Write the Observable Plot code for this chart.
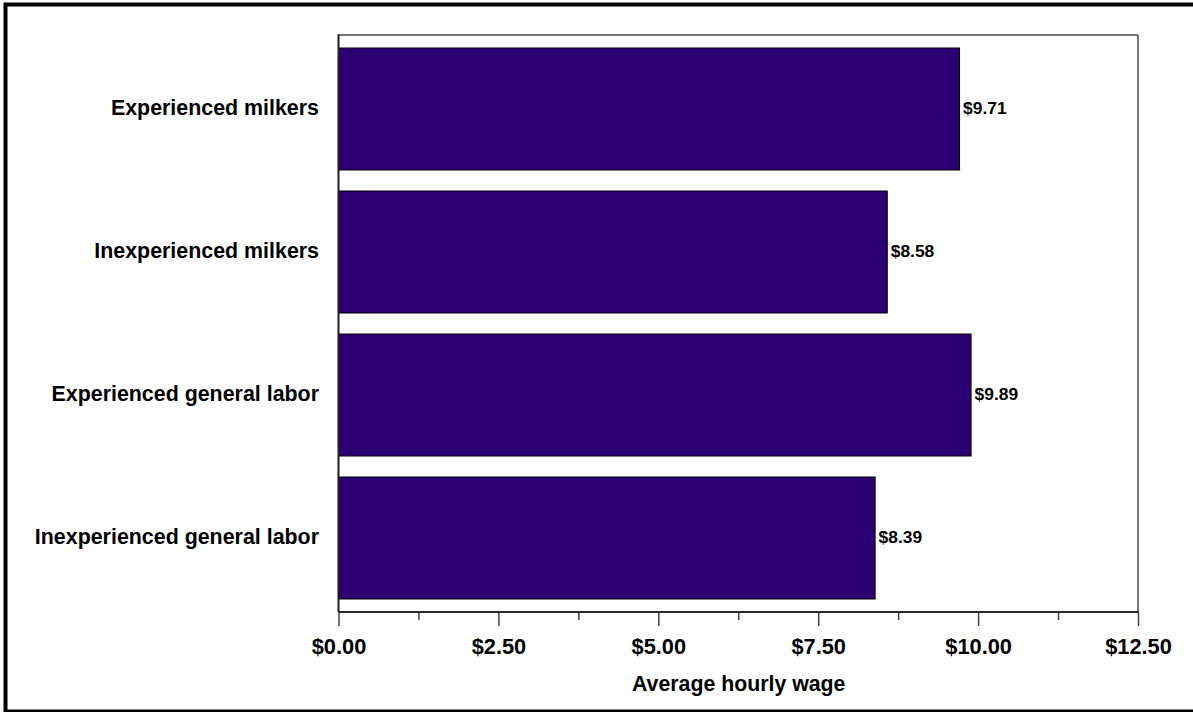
<!DOCTYPE html>
<html><head><meta charset="utf-8">
<script src="https://cdn.jsdelivr.net/npm/d3@7"></script>
<script src="https://cdn.jsdelivr.net/npm/@observablehq/plot@0.6"></script>
<style>body{margin:0;background:#fff} svg{display:block}</style>
</head><body><div id="chart"></div>
<script>
const categories = ["Experienced milkers", "Inexperienced milkers", "Experienced general labor", "Inexperienced general labor"];
const wages = [9.71, 8.58, 9.89, 8.39];
const valueLabels = ["$9.71", "$8.58", "$9.89", "$8.39"];
const majorTicks = [0, 2.5, 5, 7.5, 10, 12.5];
const minorTicks = [1.25, 3.75, 6.25, 8.75, 11.25];
const axisTitle = "Average hourly wage";

const data = categories.map((c, i) => ({category: c, wage: wages[i], label: valueLabels[i]}));

function frameLines(index, scales, values, dims) {
  const {width, height, marginLeft, marginRight, marginTop, marginBottom} = dims;
  const ns = "http://www.w3.org/2000/svg";
  const g = document.createElementNS(ns, "g");
  const l = marginLeft, r = width - marginRight, t = marginTop, b = height - marginBottom;
  const line = (x1, y1, x2, y2, stroke, sw) => {
    const e = document.createElementNS(ns, "line");
    e.setAttribute("x1", x1); e.setAttribute("y1", y1);
    e.setAttribute("x2", x2); e.setAttribute("y2", y2);
    e.setAttribute("stroke", stroke); e.setAttribute("stroke-width", sw);
    g.appendChild(e);
  };
  line(l, t, r, t, "#4a4a4a", 1.5);
  line(r, t, r, b, "#4a4a4a", 1.5);
  line(l, t - 0.75, l, b, "#1e1e1e", 2);
  line(l, b, r + 0.75, b, "#2a2a2a", 2);
  const rect = document.createElementNS(ns, "rect");
  rect.setAttribute("x", 5.5); rect.setAttribute("y", 4.5);
  rect.setAttribute("width", width); rect.setAttribute("height", height - 5);
  rect.setAttribute("fill", "none"); rect.setAttribute("stroke", "#000"); rect.setAttribute("stroke-width", 4);
  g.appendChild(rect);
  return g;
}

const chart = Plot.plot({
  width: 1193,
  height: 712,
  marginLeft: 338.5,
  marginRight: 55,
  marginTop: 35,
  marginBottom: 100,
  style: {fontFamily: "'Liberation Sans', Arial, sans-serif", fontWeight: "bold", fontSize: "21px", color: "#000", background: "#fff"},
  x: {domain: [0, 12.5], label: null},
  y: {domain: categories, paddingInner: 0.146, paddingOuter: 0.084, label: null},
  marks: [
    Plot.barX(data, {x: "wage", y: "category", fill: "#2b0073", stroke: "#000", strokeWidth: 1}),
    Plot.text(data, {x: "wage", y: "category", text: "label", dx: 3, dy: -1, textAnchor: "start", fontSize: 17.4, fontWeight: "bold", fill: "#000"}),
    Plot.axisY({tickSize: 0, tickPadding: 20, label: null, fontSize: 21.4, fontWeight: "bold", fill: "#000", dy: -1}),
    Plot.axisX({ticks: majorTicks, tickSize: 14, tickPadding: 12, label: null, stroke: "#444", strokeWidth: 1.5,
      tickFormat: d => "$" + d.toFixed(2), fontSize: 21.8, fontWeight: "bold", fill: "#000"}),
    Plot.axisX({ticks: minorTicks, tickSize: 8, text: null, label: null, stroke: "#444", strokeWidth: 1.5}),
    Plot.text([axisTitle], {frameAnchor: "bottom", dy: 78, fontSize: 21.3, fontWeight: "bold", fill: "#000"}),
    frameLines
  ]
});
document.getElementById("chart").appendChild(chart);
</script>
</body></html>
